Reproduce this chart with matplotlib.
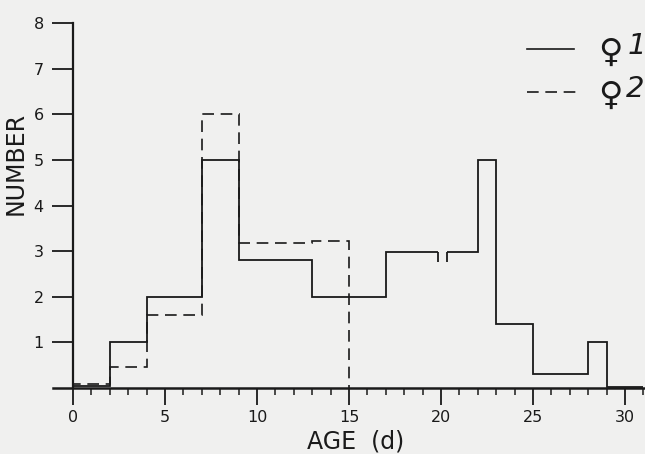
import numpy as np
import matplotlib.pyplot as plt
from matplotlib.lines import Line2D

# female 1 (solid), break at day 20
f1_edges_a = [0, 2, 4, 7, 9, 13, 17, 19.85]
f1_vals_a = [0.05, 1, 2, 5, 2.8, 2, 2.97]
f1_edges_b = [20.3, 22, 23, 25, 28, 29, 31]
f1_vals_b = [2.97, 5, 1.4, 0.3, 1, 0.02]

# female 2 (dashed)
f2_edges = [0, 2, 4, 7, 9, 13, 15]
f2_vals = [0.08, 0.45, 1.6, 6, 3.18, 3.22]

y_ticks = [1, 2, 3, 4, 5, 6, 7, 8]
x_ticks = [0, 5, 10, 15, 20, 25, 30]

bg = '#f0f0ef'
ink = '#1a1a1a'

fig = plt.figure(figsize=(6.45, 4.54), dpi=100, facecolor=bg)
ax = fig.add_axes([0.0, (454 - 388) / 454, 1.0, (388 - 23) / 454])
ax.set_facecolor(bg)

# map data x so that 0 -> 73px, 18.4 px per day
x0 = -73 / 18.4
x1 = x0 + 645 / 18.4
ax.set_xlim(x0, x1)
ax.set_ylim(0, 8)

ax.stairs(f1_vals_a, f1_edges_a, baseline=None, color=ink, lw=1.3)
ax.stairs(f1_vals_b, f1_edges_b, baseline=None, color=ink, lw=1.3)
ax.vlines([19.85, 20.3], 2.97 - 0.2, 2.97, color=ink, lw=1.3)
ax.stairs(f2_vals, f2_edges, baseline=0, color=ink, lw=1.2,
          linestyle=(0, (7, 4)))

for s in ['top', 'right']:
    ax.spines[s].set_visible(False)
ax.spines['left'].set_position(('data', 0))
ax.spines['left'].set_bounds(0, 8)
ax.spines['bottom'].set_bounds(-1.1, x1)
ax.spines['left'].set_linewidth(1.6)
ax.spines['bottom'].set_linewidth(1.8)
ax.spines['left'].set_color(ink)
ax.spines['bottom'].set_color(ink)

ax.set_yticks(y_ticks)
ax.set_yticklabels([str(v) for v in y_ticks])
ax.tick_params(axis='y', length=15, width=1.3, direction='out',
               labelsize=11.5, pad=6, colors=ink)
ax.set_xticks(x_ticks)
ax.set_xticklabels([str(v) for v in x_ticks])
ax.set_xticks(range(0, 32), minor=True)
ax.tick_params(axis='x', which='major', length=12, width=1.3,
               labelsize=11.5, pad=4, colors=ink)
ax.tick_params(axis='x', which='minor', length=5, width=1.1, colors=ink)

fig.text(356 / 645, 1 - 441 / 454, 'AGE  (d)', ha='center', va='center',
         fontsize=17, color=ink)
fig.text(16 / 645, 1 - 163 / 454, 'NUMBER', ha='center', va='center',
         rotation=90, fontsize=17, color=ink)

# legend drawn by hand
fig.add_artist(Line2D([527 / 645, 574 / 645], [1 - 49 / 454] * 2,
                      color=ink, lw=1.2))
fig.add_artist(Line2D([527 / 645, 576 / 645], [1 - 92 / 454] * 2,
                      color=ink, lw=1.2, linestyle=(0, (7, 4))))
fig.text(610 / 645, 1 - 52 / 454, '\u2640', ha='center', va='center',
         fontsize=24, color=ink)
fig.text(628 / 645, 1 - 46 / 454, '1', ha='left', va='center',
         fontsize=21, style='italic', color=ink)
fig.text(610 / 645, 1 - 95 / 454, '\u2640', ha='center', va='center',
         fontsize=24, color=ink)
fig.text(626 / 645, 1 - 89 / 454, '2', ha='left', va='center',
         fontsize=21, style='italic', color=ink)

fig.savefig('out.png', dpi=100, facecolor=bg)
